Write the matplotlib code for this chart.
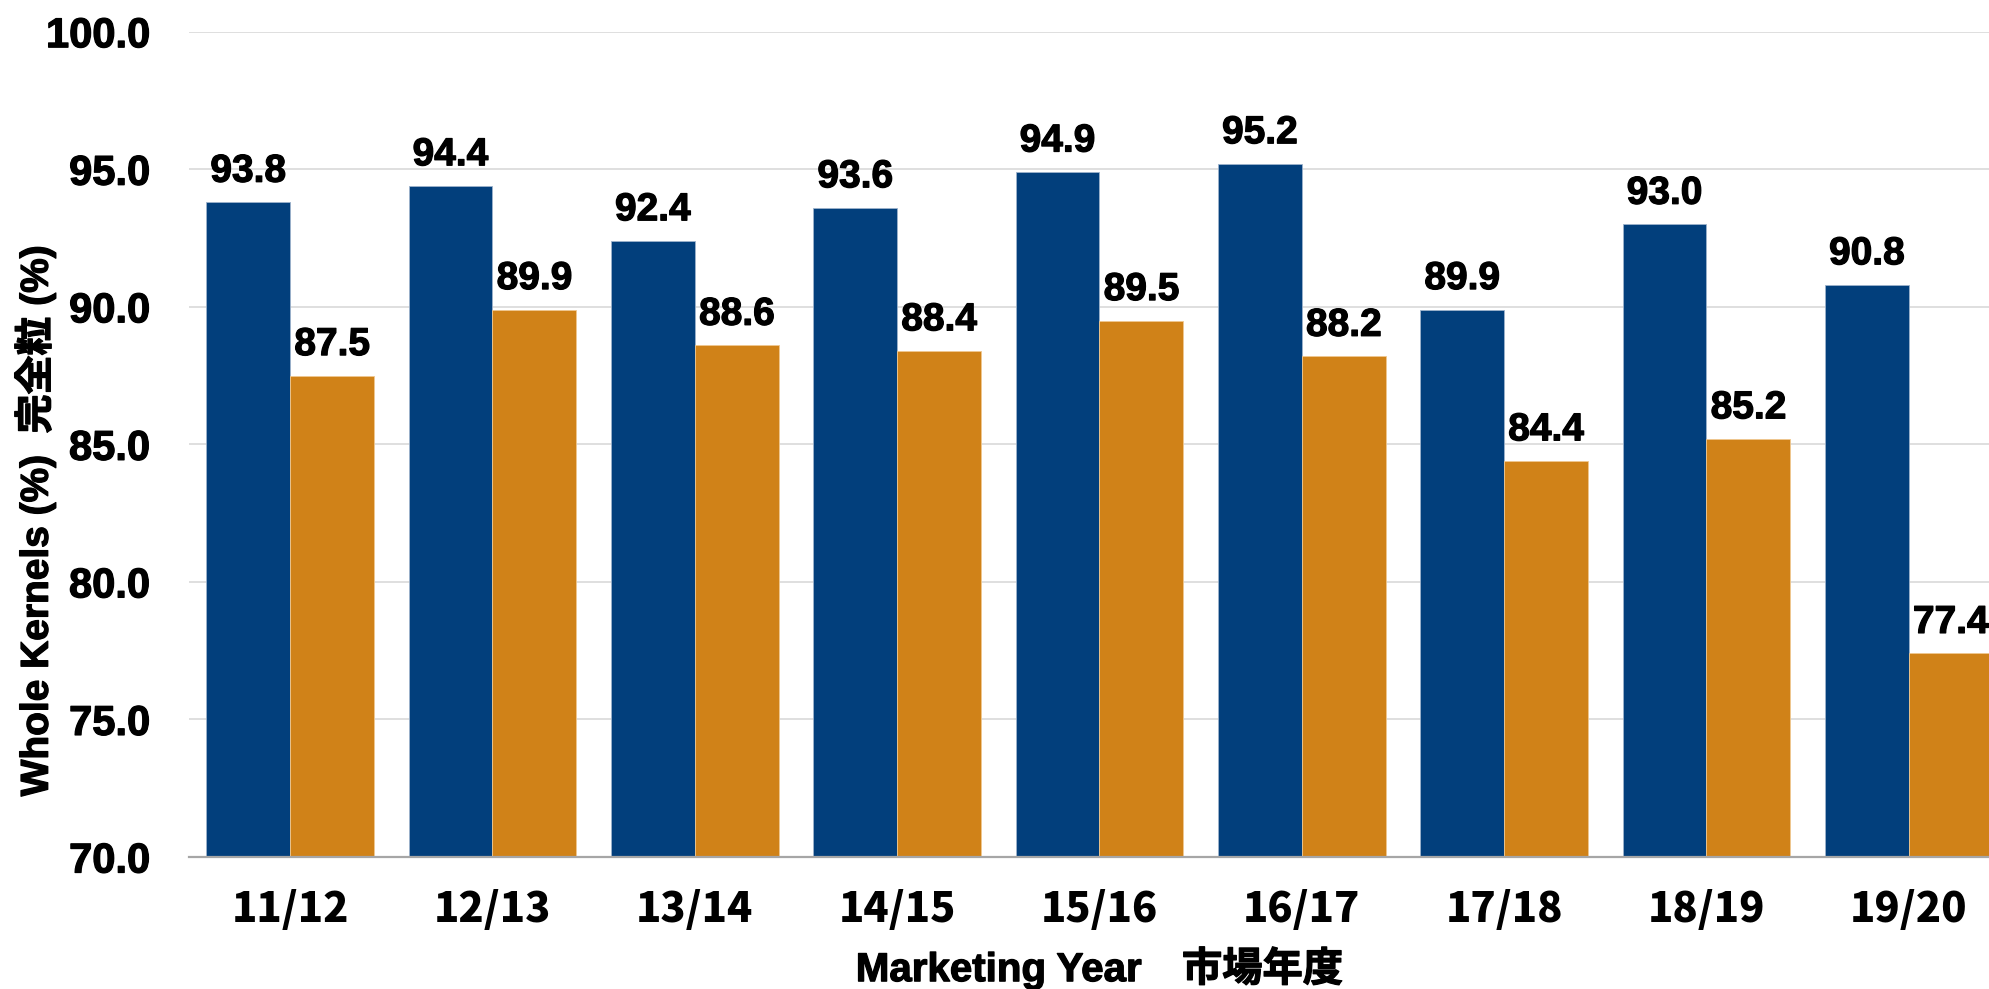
import matplotlib.pyplot as plt
import matplotlib.patheffects as pe
import numpy as np

years = ['11/12', '12/13', '13/14', '14/15', '15/16', '16/17', '17/18', '18/19', '19/20']
whole_a = [93.8, 94.4, 92.4, 93.6, 94.9, 95.2, 89.9, 93.0, 90.8]
whole_b = [87.5, 89.9, 88.6, 88.4, 89.5, 88.2, 84.4, 85.2, 77.4]
y_ticks = [70, 75, 80, 85, 90, 95, 100]

blue = '#023F7C'
orange = '#D08218'
latin = ['Liberation Sans', 'Noto Sans CJK JP', 'DejaVu Sans']
cjk = ['Noto Sans CJK JP', 'DejaVu Sans']
# a thin outline in the text colour makes the bold text a bit heavier
heavy = [pe.withStroke(linewidth=0.9, foreground='black')]

fig = plt.figure(figsize=(19.9, 9.89), dpi=100)
ax = fig.add_axes([189 / 1990, 132 / 989, (2010 - 189) / 1990, (957.3 - 132) / 989])

x = np.arange(len(years))
w = 0.415
bars_a = ax.bar(x - w / 2, whole_a, w, color=blue, edgecolor='#9DB3CC', linewidth=0.6, zorder=3)
bars_b = ax.bar(x + w / 2, whole_b, w, color=orange, edgecolor='#F0C890', linewidth=0.6, zorder=3)

for bars, vals in [(bars_a, whole_a), (bars_b, whole_b)]:
    for b, v in zip(bars, vals):
        ax.annotate(f'{v:.1f}', (b.get_x() + b.get_width() / 2, v), xytext=(0, 9),
                    textcoords='offset points', ha='center', va='bottom',
                    fontsize=28, fontweight='bold', family=latin, zorder=4,
                    path_effects=heavy)

ax.set_xlim(-0.5, 8.5)
ax.set_ylim(70, 100)
ax.set_yticks(y_ticks)
ax.set_yticklabels([f'{t:.1f}' for t in y_ticks], fontsize=30, fontweight='bold', family=latin)
for lbl in ax.get_yticklabels():
    lbl.set_path_effects(heavy)
ax.set_xticks(x)
ax.set_xticklabels(years, fontsize=30, fontweight='heavy', family=cjk)
ax.tick_params(axis='y', length=0, pad=28)
ax.tick_params(axis='x', length=0, pad=23)

ax.yaxis.grid(True, color='#D9D9D9', linewidth=1.2, zorder=0)
ax.set_axisbelow(True)
for side in ['left', 'right', 'top']:
    ax.spines[side].set_visible(False)
ax.spines['bottom'].set_color('#A6A6A6')
ax.spines['bottom'].set_linewidth(1.6)
ax.spines['bottom'].set_zorder(5)

fig.text(35 / 1990, 1 - 521 / 989, 'Whole Kernels (%)  完全粒 (%)', rotation=90,
         ha='center', va='center', fontsize=28, fontweight='bold', family=latin,
         path_effects=heavy)
fig.text(1099 / 1990, 1 - 968 / 989, 'Marketing Year\u3000市場年度',
         ha='center', va='center', fontsize=29, fontweight='bold', family=latin,
         path_effects=heavy)

fig.savefig('out.png', dpi=100)
